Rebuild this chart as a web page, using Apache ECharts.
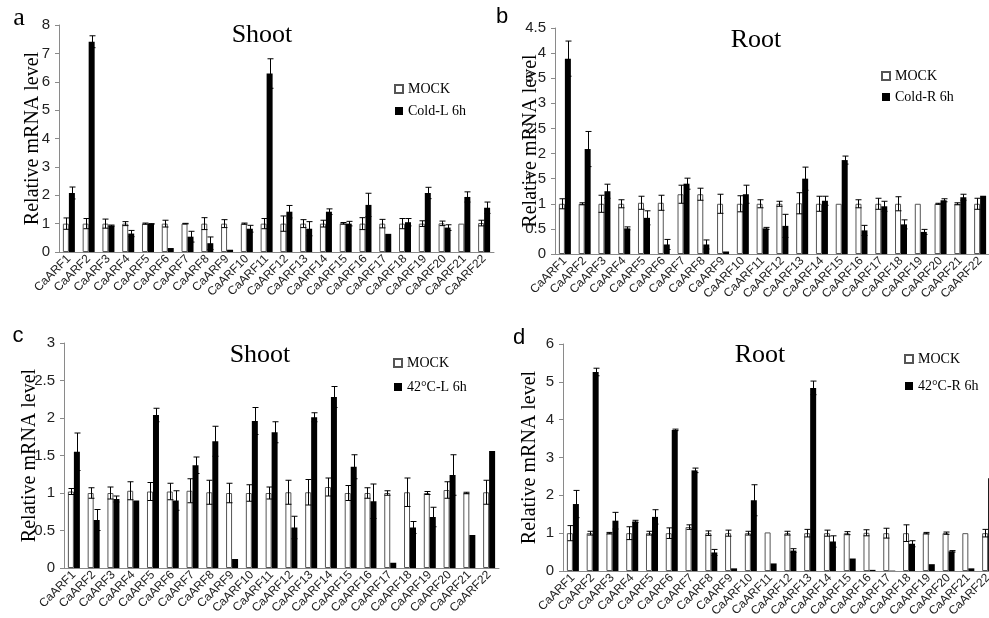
<!DOCTYPE html>
<html>
<head>
<meta charset="utf-8">
<script src="https://cdn.jsdelivr.net/npm/echarts@6/dist/echarts.min.js"></script>
<style>
  html, body { margin: 0; padding: 0; background: #fff; }
  #chart { width: 989px; height: 618px; }
</style>
</head>
<body>
<div id="chart"></div>
<script>
var genes = ['CaARF1', 'CaARF2', 'CaARF3', 'CaARF4', 'CaARF5', 'CaARF6', 'CaARF7', 'CaARF8',
  'CaARF9', 'CaARF10', 'CaARF11', 'CaARF12', 'CaARF13', 'CaARF14', 'CaARF15', 'CaARF16',
  'CaARF17', 'CaARF18', 'CaARF19', 'CaARF20', 'CaARF21', 'CaARF22'];

// a - shoot, cold
var shootColdMock = [1, 1, 1, 1, 1, 1, 1, 1, 1, 1, 1, 1, 1, 1, 1.01, 1, 1, 1, 1, 1.01, 1, 1.02];
var shootColdMockErr = [0.2, 0.18, 0.16, 0.07, 0.02, 0.12, 0.01, 0.21, 0.14, 0.02, 0.18, 0.27, 0.14, 0.12, 0.03, 0.21, 0.15, 0.18, 0.1, 0.08, 0, 0.1];
var shootCold = [2.08, 7.41, 0.93, 0.65, 0.99, 0.14, 0.54, 0.31, 0.08, 0.82, 6.29, 1.42, 0.82, 1.42, 1.0, 1.66, 0.64, 1.05, 2.08, 0.86, 1.94, 1.56];
var shootColdErr = [0.21, 0.21, 0.02, 0.11, 0.01, 0, 0.19, 0.22, 0, 0.12, 0.52, 0.22, 0.25, 0.1, 0.08, 0.41, 0, 0.13, 0.2, 0.1, 0.18, 0.2];

// b - root, cold
var rootColdMock = [1, 1, 1, 1, 1.02, 1.02, 1.19, 1.19, 1, 1, 1, 1, 1.01, 1, 1, 1, 1, 1, 1, 1, 1, 1];
var rootColdMockErr = [0.1, 0.02, 0.17, 0.08, 0.13, 0.15, 0.18, 0.12, 0.19, 0.16, 0.08, 0.05, 0.21, 0.15, 0, 0.08, 0.11, 0.14, 0, 0.01, 0.02, 0.11];
var rootCold = [3.89, 2.09, 1.25, 0.51, 0.72, 0.19, 1.4, 0.19, 0.05, 1.19, 0.51, 0.56, 1.5, 1.06, 1.87, 0.47, 0.95, 0.59, 0.44, 1.07, 1.13, 1.16];
var rootColdErr = [0.35, 0.35, 0.14, 0.03, 0.14, 0.1, 0.11, 0.09, 0, 0.18, 0.02, 0.23, 0.23, 0.09, 0.08, 0.1, 0.1, 0.09, 0.05, 0.03, 0.06, 0];

// c - shoot, 42°C
var shootHeatMock = [1.02, 1, 1, 1.03, 1.02, 1.02, 1.03, 1.01, 1, 1, 1, 1.01, 1.01, 1.08, 1, 1, 1, 1.01, 1, 1.04, 1, 1.01];
var shootHeatMockErr = [0.04, 0.07, 0.08, 0.12, 0.12, 0.11, 0.16, 0.16, 0.13, 0.11, 0.08, 0.16, 0.17, 0.12, 0.1, 0.07, 0.03, 0.19, 0.02, 0.11, 0.01, 0.16];
var shootHeat = [1.55, 0.64, 0.92, 0.9, 2.04, 0.9, 1.37, 1.69, 0.12, 1.96, 1.81, 0.54, 2.01, 2.28, 1.35, 0.89, 0.07, 0.54, 0.68, 1.24, 0.44, 1.56];
var shootHeatErr = [0.25, 0.14, 0.04, 0, 0.09, 0.13, 0.11, 0.2, 0, 0.18, 0.14, 0.15, 0.06, 0.14, 0.16, 0.23, 0, 0.08, 0.13, 0.27, 0, 0];

// d - root, 42°C
var rootHeatMock = [1, 1, 1, 1, 1, 1, 1.16, 1, 1, 1, 1.02, 1, 1, 1, 1, 1.01, 1, 1, 1, 1, 1, 1];
var rootHeatMockErr = [0.2, 0.05, 0.02, 0.17, 0.05, 0.14, 0.06, 0.06, 0.08, 0.05, 0, 0.05, 0.1, 0.08, 0.04, 0.08, 0.13, 0.22, 0.02, 0.03, 0, 0.1];
var rootHeat = [1.77, 5.26, 1.33, 1.31, 1.43, 3.73, 2.66, 0.49, 0.07, 1.87, 0.2, 0.54, 4.84, 0.78, 0.33, 0.03, 0.01, 0.72, 0.18, 0.52, 0.07, 2.45];
var rootHeatErr = [0.36, 0.1, 0.22, 0.03, 0.19, 0.02, 0.06, 0.08, 0, 0.41, 0, 0.05, 0.18, 0.15, 0, 0, 0, 0.08, 0, 0.02, 0, 0];

var SERIF = "'Liberation Serif', 'Times New Roman', serif";
var SANS = "'Liberation Sans', Arial, sans-serif";
var BAR_W = 6;

var panels = [
  { mock: shootColdMock, mockErr: shootColdMockErr, val: shootCold, err: shootColdErr, name: 'Cold-L 6h',
    grid: { left: 59, top: 25, width: 435, height: 227 }, max: 8, interval: 1, nameGap: 16,
    legend: { left: 389, top: 77, gap: 8 } },
  { mock: rootColdMock, mockErr: rootColdMockErr, val: rootCold, err: rootColdErr, name: 'Cold-R 6h',
    grid: { left: 555, top: 28, width: 435, height: 226 }, max: 4.5, interval: 0.5, nameGap: 14,
    legend: { left: 876, top: 64, gap: 7 } },
  { mock: shootHeatMock, mockErr: shootHeatMockErr, val: shootHeat, err: shootHeatErr, name: '42°C-L 6h',
    grid: { left: 64, top: 343, width: 435, height: 225 }, max: 3, interval: 0.5, nameGap: 24,
    legend: { left: 388, top: 351, gap: 10 } },
  { mock: rootHeatMock, mockErr: rootHeatMockErr, val: rootHeat, err: rootHeatErr, name: '42°C-R 6h',
    grid: { left: 563, top: 344, width: 435, height: 227 }, max: 6, interval: 1, nameGap: 23,
    legend: { left: 899, top: 347, gap: 13 } }
];

// error bar drawn on top of a bar, shifted to the bar's centre
function errorBar(offset) {
  return function(params, api) {
    var e = api.value(2);
    if (!e) {
      return;
    }
    var top = api.coord([api.value(0), api.value(1) + e]);
    var bot = api.coord([api.value(0), api.value(1) - e]);
    var x = Math.round(top[0] + offset) + 0.5;
    var style = { stroke: '#000', lineWidth: 1 };
    return {
      type: 'group',
      children: [
        { type: 'line', shape: { x1: x, y1: top[1], x2: x, y2: bot[1] }, style: style },
        { type: 'line', shape: { x1: x - 3, y1: top[1], x2: x + 3, y2: top[1] }, style: style },
        { type: 'line', shape: { x1: x - 3, y1: bot[1], x2: x + 3, y2: bot[1] }, style: style }
      ]
    };
  };
}

function errData(vals, errs) {
  return vals.map(function(v, i) { return [i, v, errs[i]]; });
}

var grids = [], xAxes = [], yAxes = [], series = [], legends = [];

panels.forEach(function(p, i) {
  grids.push(Object.assign({ outerBoundsMode: 'none', containLabel: false }, p.grid));
  xAxes.push({
    type: 'category', gridIndex: i, data: genes,
    axisLine: { lineStyle: { color: '#8a8a8a' } },
    axisTick: { length: 4, lineStyle: { color: '#8a8a8a' } },
    axisLabel: { interval: 0, rotate: 45, fontSize: 12, fontFamily: SANS, color: '#222', margin: 5 }
  });
  yAxes.push({
    type: 'value', gridIndex: i, min: 0, max: p.max, interval: p.interval,
    name: 'Relative mRNA level', nameLocation: 'middle', nameGap: p.nameGap,
    nameMoveOverlap: false,
    nameTextStyle: { fontFamily: SERIF, fontSize: 20, color: '#000' },
    axisLine: { show: true, lineStyle: { color: '#8a8a8a' } },
    axisTick: { show: true, length: 4, lineStyle: { color: '#8a8a8a' } },
    splitLine: { show: false },
    axisLabel: { fontSize: 15, fontFamily: SANS, color: '#222', margin: 9 }
  });
  series.push({
    name: 'MOCK', type: 'bar', xAxisIndex: i, yAxisIndex: i, data: p.mock,
    barWidth: BAR_W, barGap: '0%',
    itemStyle: { color: '#fff', borderColor: '#555', borderWidth: 1 }
  });
  series.push({
    name: p.name, type: 'bar', xAxisIndex: i, yAxisIndex: i, data: p.val,
    barWidth: BAR_W, barGap: '0%',
    itemStyle: { color: '#000' }
  });
  series.push({
    name: 'err', type: 'custom', xAxisIndex: i, yAxisIndex: i, z: 5,
    renderItem: errorBar(-BAR_W / 2), data: errData(p.mock, p.mockErr)
  });
  series.push({
    name: 'err', type: 'custom', xAxisIndex: i, yAxisIndex: i, z: 5,
    renderItem: errorBar(BAR_W / 2), data: errData(p.val, p.err)
  });
  legends.push({
    left: p.legend.left, top: p.legend.top, orient: 'vertical',
    itemWidth: 8, itemHeight: 8, itemGap: p.legend.gap, icon: 'rect',
    selectedMode: false,
    textStyle: { fontFamily: SERIF, fontSize: 14, color: '#000', lineHeight: 14 },
    data: ['MOCK', p.name]
  });
});

function label(text, x, y, font) {
  return {
    type: 'text', x: x, y: y,
    style: { text: text, font: font, fill: '#000', align: 'center', verticalAlign: 'middle' }
  };
}

var chart = echarts.init(document.getElementById('chart'));
chart.setOption({
  animation: false,
  grid: grids,
  xAxis: xAxes,
  yAxis: yAxes,
  legend: legends,
  series: series,
  graphic: [
    label('a', 19, 18, '26px ' + SERIF),
    label('b', 502, 17, '22px ' + SANS),
    label('c', 18, 336, '22px ' + SANS),
    label('d', 519, 338, '22px ' + SANS),
    label('Shoot', 262, 35, '26px ' + SERIF),
    label('Root', 756, 40, '26px ' + SERIF),
    label('Shoot', 260, 355, '26px ' + SERIF),
    label('Root', 760, 355, '26px ' + SERIF)
  ]
});
</script>
</body>
</html>
